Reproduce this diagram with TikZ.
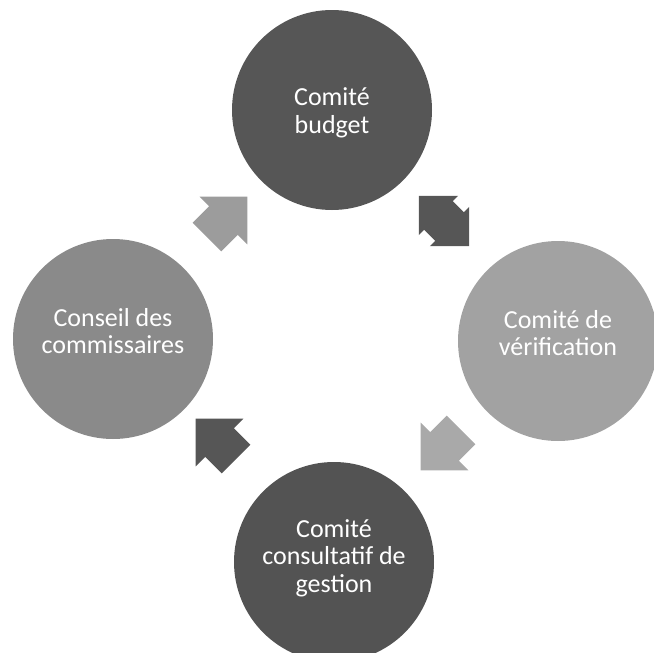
\documentclass[tikz,border=0pt]{standalone}
\usepackage{fontspec}
\setmainfont{Carlito}
\usetikzlibrary{shapes.arrows,positioning,calc}
\usepackage{xcolor}

\definecolor{circdark}{HTML}{565656}
\definecolor{circmid}{HTML}{8A8A8A}
\definecolor{circlight}{HTML}{A2A2A2}
\definecolor{arrlight}{HTML}{9C9C9C}

\begin{document}
\begin{tikzpicture}[x=1pt, y=-1pt,
    comite/.style={circle, draw=none, minimum size=200pt, inner sep=0pt},
    comitetext/.style={text=white, align=center, inner sep=0pt,
        font=\fontsize{26}{27.5}\selectfont},
    onearrow/.style={single arrow, draw=none, inner xsep=0pt, inner ysep=20pt,
        single arrow head extend=13.5pt, single arrow tip angle=90,
        minimum height=57pt},
    twoarrow/.style={double arrow, draw=none, inner xsep=0pt, inner ysep=20pt,
        double arrow head extend=7.5pt, double arrow tip angle=90,
        minimum height=71pt}]
    \useasboundingbox (0,0) rectangle (654,653);

    % Cercles
    \node[comite, fill=circdark] (budget) at (332,110) {};
    \node[comite, fill=circlight] (verif) at (558,341) {};
    \node[comite, fill=circdark!96!black] (gestion) at (334,562) {};
    \node[comite, fill=circmid] (conseil) at (113,339) {};

    % Textes
    \node[comitetext] (budget-txt) at ([yshift=-3pt]budget) {Comité\\budget};
    \node[comitetext] (verif-txt) at ([yshift=8pt]verif) {Comité de\\vérification};
    \node[comitetext] (gestion-txt) at ([yshift=4pt]gestion) {Comité\\consultatif de\\gestion};
    \node[comitetext] (conseil-txt) at ([yshift=8pt]conseil) {Conseil des\\commissaires};

    % Flèches
    \node[onearrow, fill=arrlight, rotate=45] (conseil-budget) at (220,224) {};
    \node[twoarrow, fill=circdark, rotate=-45] (budget-verif) at (444,221) {};
    \node[onearrow, fill=circlight!92!white, rotate=-135] (verif-gestion) at (448,443) {};
    \node[onearrow, fill=circdark, rotate=135] (gestion-conseil) at (223,446) {};
\end{tikzpicture}
\end{document}
